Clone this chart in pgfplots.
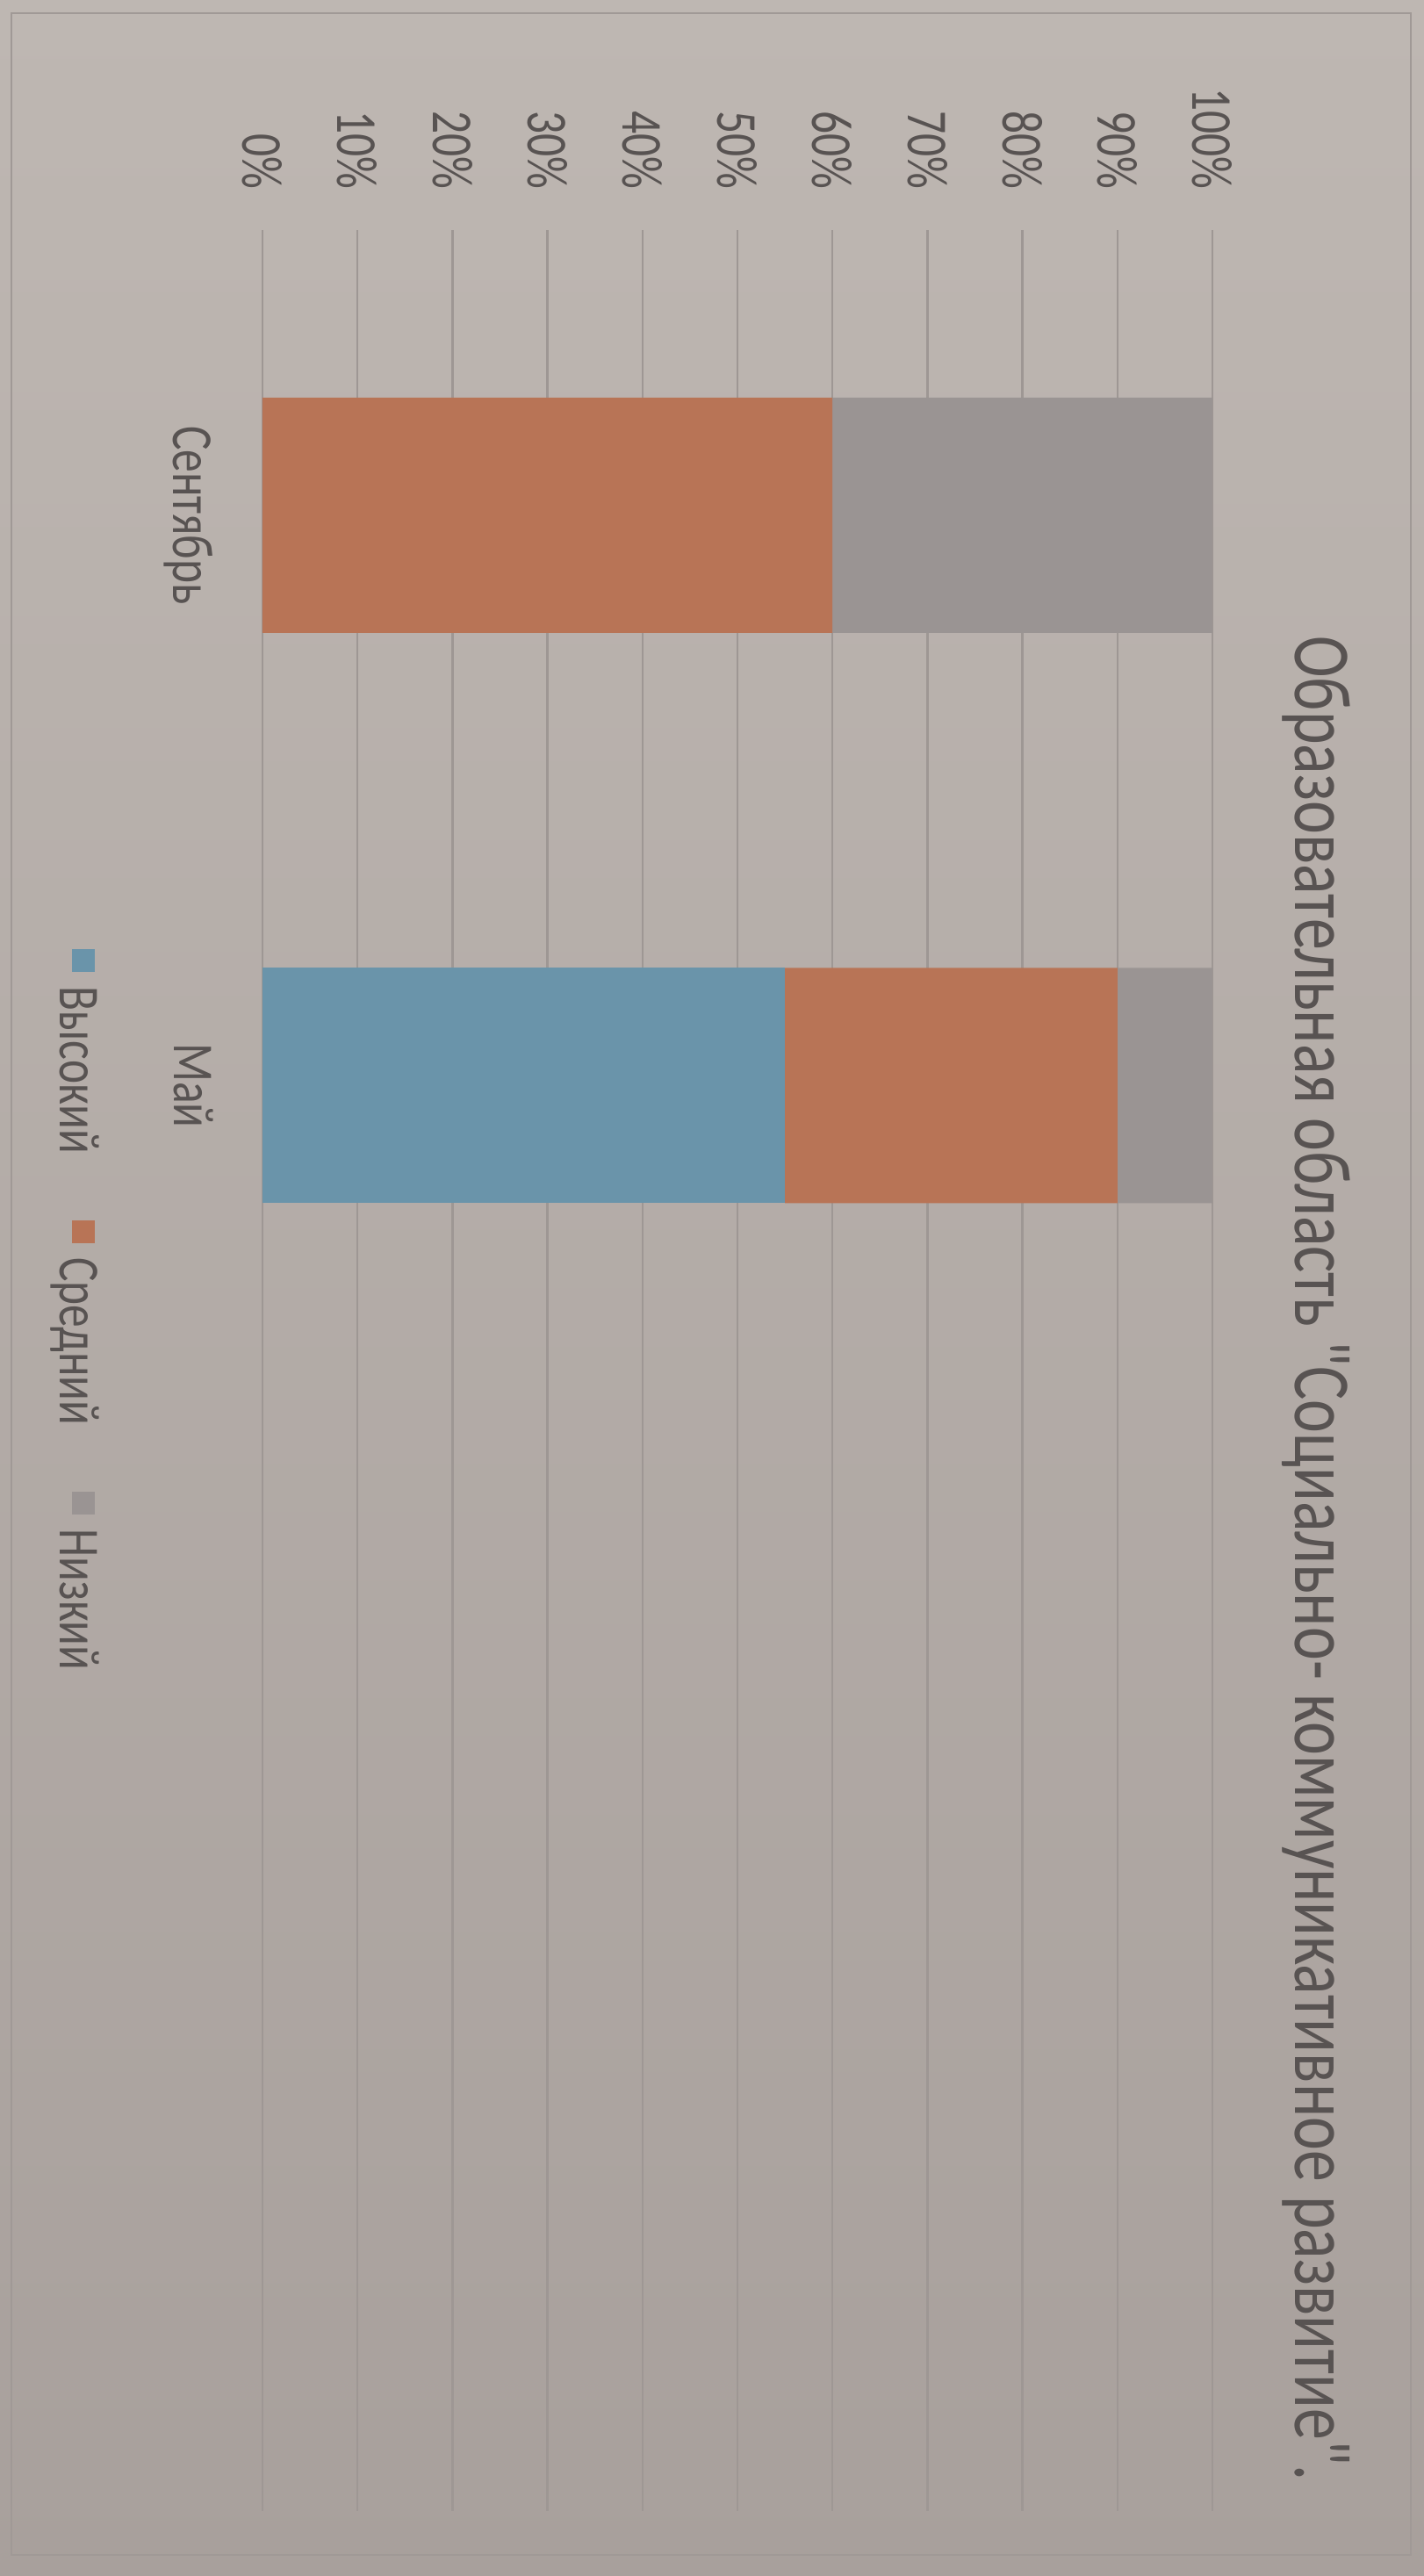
\documentclass[border=0pt]{standalone}
\usepackage{fontspec}
\setmainfont[FakeStretch=0.78, Ligatures=TeXOff]{Carlito}
\usepackage{pgfplots}
\pgfplotsset{compat=1.18}
\usetikzlibrary{backgrounds}

\definecolor{papertop}{RGB}{190,183,178}
\definecolor{paperbot}{RGB}{168,160,156}
\definecolor{gridc}{RGB}{158,151,148}
\definecolor{framec}{RGB}{160,153,150}
\definecolor{txt}{RGB}{88,83,82}
\definecolor{cblue}{RGB}{106,148,170}
\definecolor{corange}{RGB}{184,116,86}
\definecolor{cgrey}{RGB}{154,148,147}

% legend key: small square raised to cap height
\newcommand{\lkey}[1]{\textcolor{#1}{\rule[7pt]{13pt}{13pt}}\hspace{8pt}}

\begin{document}
\begin{tikzpicture}
\begin{axis}[
  name=ax, at={(0,0)}, anchor=south west,
  scale only axis, width=541pt, height=1299pt,
  xbar stacked, bar width=134pt,
  xmin=0, xmax=100, ymin=-0.5, ymax=3.5, y dir=reverse,
  enlargelimits=false,
  axis line style={draw=none},
  major tick length=0pt, tick style={draw=none},
  xmajorgrids, major grid style={draw=gridc, line width=1.2pt},
  xtick={0,10,...,100},
  xticklabels={0\%,10\%,20\%,30\%,40\%,50\%,60\%,70\%,80\%,90\%,100\%},
  xticklabel pos=upper,
  xticklabel shift=23pt,
  xticklabel style={rotate=-90, anchor=east, inner sep=0pt},
  ytick={0,1}, yticklabels={Сентябрь,Май},
  yticklabel pos=lower,
  yticklabel shift=28pt,
  yticklabel style={rotate=-90, anchor=north, inner sep=0pt},
  tick label style={font=\fontsize{33}{36}\selectfont, text=txt},
  title={Образовательная область "Социально- коммуникативное развитие".},
  title style={rotate=-90, at={(1.073,0.413)}, anchor=south, inner sep=0pt,
    font=\fontsize{46}{50}\selectfont, text=txt},
]
\addplot[fill=cblue, draw=none] coordinates {(0,0) (55,1)};
\addplot[fill=corange, draw=none] coordinates {(60,0) (35,1)};
\addplot[fill=cgrey, draw=none] coordinates {(40,0) (10,1)};
\end{axis}
% legend, turned like the rest of the chart
\node[rotate=-90, anchor=north, inner sep=0pt, text=txt,
      font=\fontsize{33}{36}\selectfont]
  at (-93pt,684pt)
  {\lkey{cblue}Высокий\hspace{38pt}\lkey{corange}Средний\hspace{38pt}\lkey{cgrey}Низкий};
\begin{scope}[on background layer]
\shade[top color=papertop, bottom color=paperbot] (-149.5pt,-37pt) rectangle (661.5pt,1430pt);
\draw[framec, line width=1pt] (-143pt,-25pt) rectangle (654pt,1422.5pt);
\end{scope}
\end{tikzpicture}
\end{document}
